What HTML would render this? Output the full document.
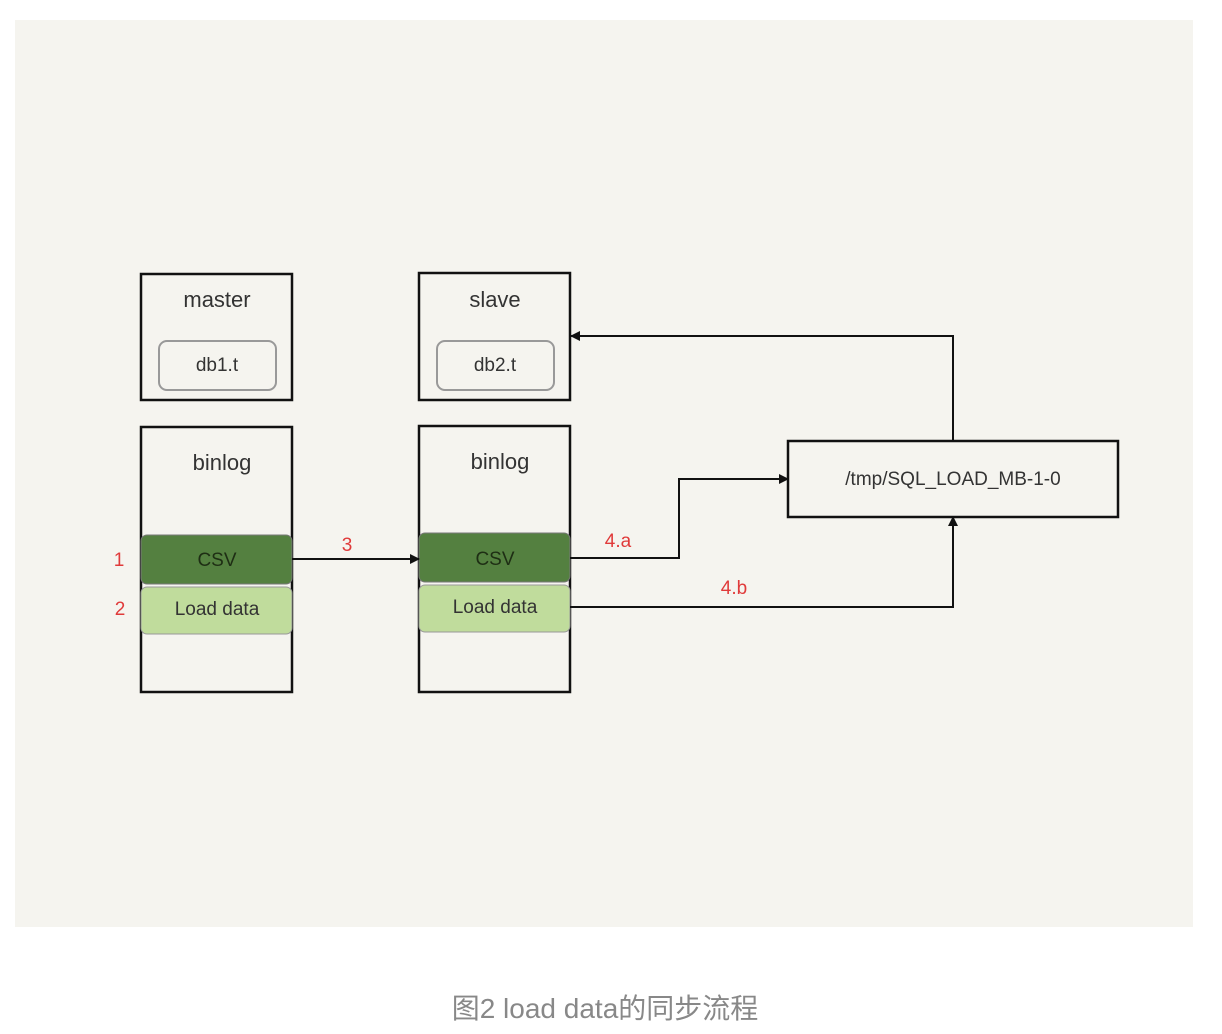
<!DOCTYPE html>
<html><head><meta charset="utf-8"><style>
html,body{margin:0;padding:0;background:#fff;}
svg{display:block;}
.h{font-family:"Liberation Sans",sans-serif;}
</style></head><body>
<svg width="1222" height="1034" viewBox="0 0 1222 1034" xmlns="http://www.w3.org/2000/svg">
<defs><marker id="a" markerWidth="10" markerHeight="10" refX="9" refY="5" orient="auto" markerUnits="userSpaceOnUse"><path d="M0,0 L10,5 L0,10 z" fill="#111"/></marker></defs>
<rect x="15" y="20" width="1178" height="907" fill="#f5f4ef"/>
<g fill="none" stroke="#111" stroke-width="2.5">
<rect x="141" y="274" width="151" height="126"/>
<rect x="419" y="273" width="151" height="127"/>
<rect x="141" y="427" width="151" height="265"/>
<rect x="419" y="426" width="151" height="266"/>
<rect x="788" y="441" width="330" height="76"/>
</g>
<rect x="159" y="341" width="117" height="49" rx="8" fill="#f5f4ef" stroke="#999" stroke-width="2"/>
<rect x="437" y="341" width="117" height="49" rx="8" fill="#f5f4ef" stroke="#999" stroke-width="2"/>
<rect x="141" y="535" width="151" height="49" rx="6" fill="#548040" stroke="#777" stroke-width="1"/>
<rect x="141" y="587" width="151" height="47" rx="6" fill="#c0dc9c" stroke="#999" stroke-width="1"/>
<rect x="419" y="533" width="151" height="49" rx="6" fill="#548040" stroke="#777" stroke-width="1"/>
<rect x="419" y="585" width="151" height="47" rx="6" fill="#c0dc9c" stroke="#999" stroke-width="1"/>
<g fill="none" stroke="#111" stroke-width="2" marker-end="url(#a)">
<path d="M292,559 H419"/>
<path d="M570,558 H679 V479 H788"/>
<path d="M570,607 H953 V517"/>
<path d="M953,441 V336 H571"/>
</g>
<g class="h" font-size="22" fill="#333" text-anchor="middle">
<text x="217" y="307">master</text>
<text x="495" y="307">slave</text>
<text x="217" y="371" font-size="19">db1.t</text>
<text x="495" y="371" font-size="19">db2.t</text>
<text x="222" y="470">binlog</text>
<text x="500" y="469">binlog</text>
<text x="217" y="566" font-size="19" fill="#1e2e14">CSV</text>
<text x="495" y="565" font-size="19" fill="#1e2e14">CSV</text>
<text x="217" y="615" font-size="19">Load data</text>
<text x="495" y="613" font-size="19">Load data</text>
<text x="953" y="485" font-size="19">/tmp/SQL_LOAD_MB-1-0</text>
</g>
<g class="h" font-size="19" fill="#e03a3a" text-anchor="middle">
<text x="119" y="566">1</text>
<text x="120" y="615">2</text>
<text x="347" y="551">3</text>
<text x="618" y="547">4.a</text>
<text x="734" y="594">4.b</text>
</g>
<text x="605" y="1018" text-anchor="middle" font-size="28" fill="#888" font-family="'Liberation Sans','Noto Sans CJK SC',sans-serif">图2 load data的同步流程</text>
</svg>
</body></html>
